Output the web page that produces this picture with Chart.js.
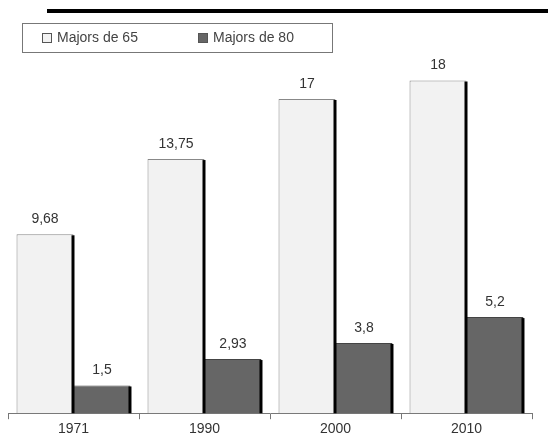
<!DOCTYPE html>
<html>
<head>
<meta charset="utf-8">
<script src="https://cdn.jsdelivr.net/npm/chart.js@4.4.0/dist/chart.umd.min.js"></script>
<style>
html, body { margin: 0; padding: 0; background: #fff; }
#wrap { width: 548px; height: 445px; position: relative; }
</style>
</head>
<body>
<div id="wrap"><canvas id="myCanvas"></canvas></div>
<script>
const years = ['1971', '1990', '2000', '2010']
const majors65 = [9.68, 13.75, 17, 18]
const majors80 = [1.5, 2.93, 3.8, 5.2]
const seriesNames = ['Majors de 65', 'Majors de 80']

const FONT = '"Liberation Sans", Arial, sans-serif'

function fmt(v) {
    return String(v).replace('.', ',')
}

// black right edge on each bar + value labels
const barExtras = {
    id: 'barExtras',
    afterDatasetsDraw(chart) {
        const ctx = chart.ctx
        ctx.save()
        chart.data.datasets.forEach((ds, i) => {
            const meta = chart.getDatasetMeta(i)
            meta.data.forEach((bar, j) => {
                const right = bar.x + bar.width / 2
                ctx.strokeStyle = '#000'
                ctx.lineWidth = 3
                ctx.beginPath()
                ctx.moveTo(right - 0.5, bar.y + 1)
                ctx.lineTo(right - 0.5, bar.base)
                ctx.stroke()

                ctx.fillStyle = '#333'
                ctx.font = '14px ' + FONT
                ctx.textAlign = 'center'
                ctx.textBaseline = 'bottom'
                ctx.fillText(fmt(ds.data[j]), bar.x, bar.y - 8)
            })
        })
        ctx.restore()
    }
}

// boxed legend, drawn from the datasets
const boxLegend = {
    id: 'boxLegend',
    afterDraw(chart) {
        const ctx = chart.ctx
        ctx.save()
        // page rule at the top
        ctx.fillStyle = '#000'
        ctx.fillRect(47, 9, 501, 4)

        ctx.strokeStyle = '#777'
        ctx.lineWidth = 1
        ctx.strokeRect(22.5, 23.5, 310, 29)

        const xs = [42, 198]
        ctx.font = '14px ' + FONT
        ctx.textBaseline = 'middle'
        ctx.textAlign = 'left'
        chart.data.datasets.forEach((ds, i) => {
            ctx.fillStyle = ds.backgroundColor
            ctx.fillRect(xs[i], 33, 10, 10)
            ctx.strokeStyle = '#555'
            ctx.strokeRect(xs[i] + 0.5, 33.5, 9, 9)
            ctx.fillStyle = '#444'
            ctx.fillText(ds.label, xs[i] + 15, 38)
        })
        ctx.restore()
    }
}

new Chart(document.getElementById('myCanvas').getContext('2d'), {
    type: 'bar',
    data: {
        labels: years,
        datasets: [
            {
                label: seriesNames[0],
                data: majors65,
                backgroundColor: '#f2f2f2',
                borderColor: '#888',
                borderWidth: { top: 1, left: 1, right: 0, bottom: 0 },
            },
            {
                label: seriesNames[1],
                data: majors80,
                backgroundColor: '#666',
                borderColor: '#444',
                borderWidth: { top: 1, left: 0, right: 0, bottom: 0 },
            },
        ],
    },
    options: {
        responsive: true,
        maintainAspectRatio: false,
        animation: false,
        devicePixelRatio: 1,
        layout: { padding: { left: 8, right: 16, top: 62, bottom: 5 } },
        datasets: { bar: { categoryPercentage: 0.87, barPercentage: 1 } },
        plugins: {
            legend: { display: false },
            tooltip: { enabled: false },
        },
        scales: {
            x: {
                grid: { offset: true, drawOnChartArea: false, tickLength: 6, color: '#777' },
                border: { color: '#777' },
                ticks: { color: '#333', font: { size: 14, family: FONT }, padding: 2 },
            },
            y: { display: false, min: 0, max: 19.0 },
        },
    },
    plugins: [barExtras, boxLegend],
})
</script>
</body>
</html>
